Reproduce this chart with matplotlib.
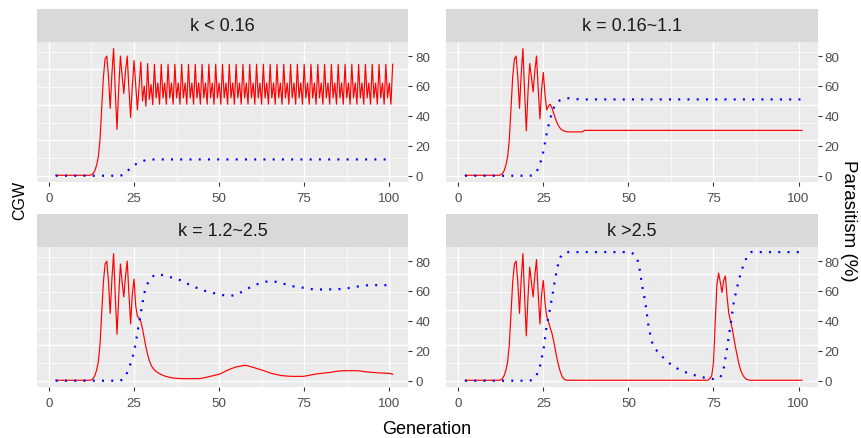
import numpy as np
import matplotlib
matplotlib.use("Agg")
import matplotlib.pyplot as plt

plt.rcParams['font.family'] = ['Liberation Sans', 'DejaVu Sans']

facet_titles = ["k < 0.16", "k = 0.16~1.1", "k = 1.2~2.5", "k >2.5"]

# CGW is recorded every half generation, parasitism once per generation
cgw_generation = np.arange(2.0, 101.01, 0.5)
para_generation = np.arange(2, 102)

cgw_k_low = [
    0.3, 0.3, 0.3, 0.3, 0.3, 0.3, 0.3, 0.3, 0.3, 0.3,
    0.3, 0.3, 0.3, 0.3, 0.3, 0.3, 0.3, 0.3, 0.3, 0.3,
    0.3, 0.6, 1.5, 3.5, 7, 12.5, 24, 45, 66, 78,
    80, 66, 45, 68, 85, 56, 31, 58, 80, 67,
    55, 70, 80, 58, 39, 60, 77, 60, 44, 60,
    76, 50, 60, 46.5, 75, 51, 61, 47.5, 74.5, 52,
    62, 47.8, 74.5, 52, 62, 47.8, 74.5, 52, 62, 47.8,
    74.5, 52, 62, 47.8, 74.5, 52, 62, 47.8, 74.5, 52,
    62, 47.8, 74.5, 52, 62, 47.8, 74.5, 52, 62, 47.8,
    74.5, 52, 62, 47.8, 74.5, 52, 62, 47.8, 74.5, 52,
    62, 47.8, 74.5, 52, 62, 47.8, 74.5, 52, 62, 47.8,
    74.5, 52, 62, 47.8, 74.5, 52, 62, 47.8, 74.5, 52,
    62, 47.8, 74.5, 52, 62, 47.8, 74.5, 52, 62, 47.8,
    74.5, 52, 62, 47.8, 74.5, 52, 62, 47.8, 74.5, 52,
    62, 47.8, 74.5, 52, 62, 47.8, 74.5, 52, 62, 47.8,
    74.5, 52, 62, 47.8, 74.5, 52, 62, 47.8, 74.5, 52,
    62, 47.8, 74.5, 52, 62, 47.8, 74.5, 52, 62, 47.8,
    74.5, 52, 62, 47.8, 74.5, 52, 62, 47.8, 74.5, 52,
    62, 47.8, 74.5, 52, 62, 47.8, 74.5, 52, 62, 47.8,
    74.5, 52, 62, 47.8, 74.5, 52, 62, 47.8, 74.5,
]

cgw_k_mid = [
    0.3, 0.3, 0.3, 0.3, 0.3, 0.3, 0.3, 0.3, 0.3, 0.3,
    0.3, 0.3, 0.3, 0.3, 0.3, 0.3, 0.3, 0.3, 0.3, 0.3,
    0.3, 0.6, 1.5, 3.5, 7, 12.5, 24, 45, 66, 78,
    80, 66, 45, 68, 85, 56, 30, 56, 75, 66,
    56, 70, 80, 58, 38, 58, 69, 54, 44, 46.5,
    47.8, 45.5, 42, 38.5, 35.5, 33.2, 31.6, 30.6, 30, 29.6,
    29.4, 29.3, 29.3, 29.3, 29.3, 29.3, 29.3, 29.3, 29.3, 29.3,
    30.3, 30.3, 30.3, 30.3, 30.3, 30.3, 30.3, 30.3, 30.3, 30.3,
    30.3, 30.3, 30.3, 30.3, 30.3, 30.3, 30.3, 30.3, 30.3, 30.3,
    30.3, 30.3, 30.3, 30.3, 30.3, 30.3, 30.3, 30.3, 30.3, 30.3,
    30.3, 30.3, 30.3, 30.3, 30.3, 30.3, 30.3, 30.3, 30.3, 30.3,
    30.3, 30.3, 30.3, 30.3, 30.3, 30.3, 30.3, 30.3, 30.3, 30.3,
    30.3, 30.3, 30.3, 30.3, 30.3, 30.3, 30.3, 30.3, 30.3, 30.3,
    30.3, 30.3, 30.3, 30.3, 30.3, 30.3, 30.3, 30.3, 30.3, 30.3,
    30.3, 30.3, 30.3, 30.3, 30.3, 30.3, 30.3, 30.3, 30.3, 30.3,
    30.3, 30.3, 30.3, 30.3, 30.3, 30.3, 30.3, 30.3, 30.3, 30.3,
    30.3, 30.3, 30.3, 30.3, 30.3, 30.3, 30.3, 30.3, 30.3, 30.3,
    30.3, 30.3, 30.3, 30.3, 30.3, 30.3, 30.3, 30.3, 30.3, 30.3,
    30.3, 30.3, 30.3, 30.3, 30.3, 30.3, 30.3, 30.3, 30.3, 30.3,
    30.3, 30.3, 30.3, 30.3, 30.3, 30.3, 30.3, 30.3, 30.3,
]

cgw_k_high = [
    0.3, 0.3, 0.3, 0.3, 0.3, 0.3, 0.3, 0.3, 0.3, 0.3,
    0.3, 0.3, 0.3, 0.3, 0.3, 0.3, 0.3, 0.3, 0.3, 0.3,
    0.3, 0.6, 1.5, 3.5, 7, 12.5, 24, 45, 66, 78,
    80, 66, 45, 68, 85, 56, 31, 56, 78, 66,
    56, 70, 80, 58, 38, 58, 68, 50, 43, 42,
    39.5, 34.5, 28.5, 22.5, 17.5, 13.5, 10.5, 8.5, 7.2, 6.2,
    5.4, 4.7, 4.1, 3.6, 3.2, 2.8, 2.5, 2.2, 2.0, 1.8,
    1.7, 1.6, 1.5, 1.5, 1.4, 1.4, 1.4, 1.4, 1.4, 1.4,
    1.4, 1.4, 1.4, 1.4, 1.4, 1.5, 1.7, 1.9, 2.2, 2.4,
    2.7, 3.0, 3.2, 3.5, 3.8, 4.0, 4.3, 4.8, 5.3, 5.9,
    6.5, 7.0, 7.5, 8.0, 8.4, 8.8, 9.2, 9.5, 9.7, 9.9,
    10.1, 10.2, 10.2, 9.9, 9.6, 9.3, 8.9, 8.6, 8.2, 7.9,
    7.5, 7.2, 6.8, 6.4, 6.0, 5.6, 5.2, 4.9, 4.6, 4.3,
    4.1, 3.8, 3.6, 3.4, 3.3, 3.2, 3.1, 3.0, 3.0, 2.9,
    2.9, 2.9, 2.9, 2.9, 2.9, 2.9, 3.0, 3.2, 3.4, 3.6,
    3.9, 4.1, 4.3, 4.5, 4.6, 4.8, 4.9, 5.0, 5.2, 5.3,
    5.4, 5.5, 5.7, 5.9, 6.1, 6.3, 6.4, 6.5, 6.6, 6.7,
    6.7, 6.7, 6.7, 6.7, 6.7, 6.7, 6.7, 6.7, 6.6, 6.5,
    6.3, 6.1, 6.0, 5.9, 5.8, 5.7, 5.6, 5.5, 5.4, 5.3,
    5.2, 5.2, 5.1, 5.1, 5.0, 5.0, 4.9, 4.7, 4.3,
]

cgw_k_top = [
    0.3, 0.3, 0.3, 0.3, 0.3, 0.3, 0.3, 0.3, 0.3, 0.3,
    0.3, 0.3, 0.3, 0.3, 0.3, 0.3, 0.3, 0.3, 0.3, 0.3,
    0.3, 0.6, 1.5, 3.5, 7, 12.5, 24, 45, 66, 78,
    80, 66, 45, 68, 85, 56, 30, 56, 76, 66,
    56, 70, 81, 58, 38, 58, 67, 52, 43, 39.5,
    35.5, 32, 27, 21, 15, 10, 6, 3, 1.3, 0.5,
    0.3, 0.3, 0.3, 0.3, 0.3, 0.3, 0.3, 0.3, 0.3, 0.3,
    0.3, 0.3, 0.3, 0.3, 0.3, 0.3, 0.3, 0.3, 0.3, 0.3,
    0.3, 0.3, 0.3, 0.3, 0.3, 0.3, 0.3, 0.3, 0.3, 0.3,
    0.3, 0.3, 0.3, 0.3, 0.3, 0.3, 0.3, 0.3, 0.3, 0.3,
    0.3, 0.3, 0.3, 0.3, 0.3, 0.3, 0.3, 0.3, 0.3, 0.3,
    0.3, 0.3, 0.3, 0.3, 0.3, 0.3, 0.3, 0.3, 0.3, 0.3,
    0.3, 0.3, 0.3, 0.3, 0.3, 0.3, 0.3, 0.3, 0.3, 0.3,
    0.3, 0.3, 0.3, 0.3, 0.3, 0.3, 0.3, 0.3, 0.3, 0.3,
    0.3, 0.3, 0.3, 0.6, 1.5, 3.5, 12, 38, 64, 72,
    66, 59, 67, 70, 56, 45, 40, 35, 28.5, 22,
    16.5, 11, 7, 4.3, 2.5, 1.3, 0.7, 0.4, 0.3, 0.3,
    0.3, 0.3, 0.3, 0.3, 0.3, 0.3, 0.3, 0.3, 0.3, 0.3,
    0.3, 0.3, 0.3, 0.3, 0.3, 0.3, 0.3, 0.3, 0.3, 0.3,
    0.3, 0.3, 0.3, 0.3, 0.3, 0.3, 0.3, 0.3, 0.3,
]

para_k_low = [
    0, 0, 0, 0, 0, 0, 0, 0, 0, 0,
    0, 0, 0, 0, 0, 0, 0, 0, 0, 0,
    0.8, 3, 5.2, 7, 8.3, 9.4, 10.1, 10.6, 10.8, 10.9,
    10.9, 10.9, 10.9, 10.9, 10.9, 10.9, 10.9, 10.9, 10.9, 10.9,
    10.9, 10.9, 10.9, 10.9, 10.9, 10.9, 10.9, 10.9, 10.9, 10.9,
    10.9, 10.9, 10.9, 10.9, 10.9, 10.9, 10.9, 10.9, 10.9, 10.9,
    10.9, 10.9, 10.9, 10.9, 10.9, 10.9, 10.9, 10.9, 10.9, 10.9,
    10.9, 10.9, 10.9, 10.9, 10.9, 10.9, 10.9, 10.9, 10.9, 10.9,
    10.9, 10.9, 10.9, 10.9, 10.9, 10.9, 10.9, 10.9, 10.9, 10.9,
    10.9, 10.9, 10.9, 10.9, 10.9, 10.9, 10.9, 10.9, 10.9, 10.9,
]

para_k_mid = [
    0, 0, 0, 0, 0, 0, 0, 0, 0, 0,
    0, 0, 0, 0, 0, 0, 0, 0, 0, 0,
    0.3, 2.5, 7.5, 16, 28.5, 38, 45, 49, 50.6, 51.4,
    51.8, 51.8, 51.5, 51.2, 51.0, 51.0, 51.0, 51.0, 51.0, 51.0,
    51.0, 51.0, 51.0, 51.0, 51.0, 51.0, 51.0, 51.0, 51.0, 51.0,
    51.0, 51.0, 51.0, 51.0, 51.0, 51.0, 51.0, 51.0, 51.0, 51.0,
    51.0, 51.0, 51.0, 51.0, 51.0, 51.0, 51.0, 51.0, 51.0, 51.0,
    51.0, 51.0, 51.0, 51.0, 51.0, 51.0, 51.0, 51.0, 51.0, 51.0,
    51.0, 51.0, 51.0, 51.0, 51.0, 51.0, 51.0, 51.0, 51.0, 51.0,
    51.0, 51.0, 51.0, 51.0, 51.0, 51.0, 51.0, 51.0, 51.0, 51.0,
]

para_k_high = [
    0, 0, 0, 0, 0, 0, 0, 0, 0, 0,
    0, 0, 0, 0, 0, 0, 0, 0, 0, 0,
    1.5, 5.5, 11.5, 19, 32, 45.5, 58.5, 65, 68.5, 70.7,
    71.2, 70.8, 70.2, 69.6, 69.0, 68.3, 67.6, 67.0, 66.0, 64.5,
    63.3, 62.4, 61.7, 60.8, 60.0, 59.4, 58.8, 58.2, 57.8, 57.3,
    57.0, 56.9, 57.0, 57.5, 58.6, 59.8, 61.0, 62.3, 63.4, 64.3,
    65.1, 65.8, 66.3, 66.5, 66.4, 66.0, 65.5, 64.8, 64.1, 63.5,
    63.0, 62.7, 62.4, 62.1, 61.8, 61.3, 61.0, 61.0, 61.0, 61.0,
    61.0, 61.1, 61.2, 61.2, 61.3, 61.6, 61.9, 62.3, 62.7, 63.1,
    63.4, 63.7, 63.9, 63.9, 63.9, 63.9, 63.9, 63.9, 63.9, 63.9,
]

para_k_top = [
    0, 0, 0, 0, 0, 0, 0, 0, 0, 0,
    0, 0, 0, 0, 0, 0, 0, 0, 0, 0,
    0.8, 3.5, 9.6, 20, 37, 48.5, 61.5, 75, 82.5, 85.3,
    86, 86, 86, 86, 86, 86, 86, 86, 86, 86,
    86, 86, 86, 86, 86, 86, 86, 86, 86, 85.5,
    84, 79, 64, 52, 35, 25.5, 21, 18.3, 16, 13.8,
    11.8, 10, 8.5, 7.5, 6.5, 5.5, 4.6, 4, 3.3, 2.8,
    2.2, 1.7, 1.3, 1.2, 1.4, 2, 8, 22, 37, 53,
    63, 72, 78.5, 83.5, 86, 86, 86, 86, 86, 86,
    86, 86, 86, 86, 86, 86, 86, 86, 86, 86,
]

cgw_series = [cgw_k_low, cgw_k_mid, cgw_k_high, cgw_k_top]
para_series = [para_k_low, para_k_mid, para_k_high, para_k_top]

# ---- layout (pixel units of an 861 x 439 canvas) ----
W, H = 861, 439
panel_lefts = [36.7, 446.0]
panel_tops = [43.0, 248.0]
panel_w, panel_h, strip_h = 371.6, 140.0, 33.0
cgw_grid_step = 11.86          # CGW gridlines expressed on the parasitism scale


def frac_box(x, y, w, h):
    return [x / W, 1 - (y + h) / H, w / W, h / H]


fig = plt.figure(figsize=(W / 100, H / 100), dpi=100)

for i, (title, cgw, para) in enumerate(zip(facet_titles, cgw_series, para_series)):
    r, c = divmod(i, 2)
    x0, y0 = panel_lefts[c], panel_tops[r]

    ax = fig.add_axes(frac_box(x0, y0, panel_w, panel_h))
    ax.set_facecolor('#EBEBEB')
    for s in ax.spines.values():
        s.set_visible(False)
    ax.set_xlim(-3.6, 105.6)
    ax.set_ylim(-4.2, 89.4)

    ax.set_xticks([0, 25, 50, 75, 100])
    ax.set_xticks([12.5, 37.5, 62.5, 87.5], minor=True)
    ax.set_axisbelow(True)
    ax.grid(which='major', axis='x', color='white', lw=1.0)
    ax.grid(which='minor', axis='x', color='white', lw=0.5)
    for k in range(8):
        ax.axhline(k * cgw_grid_step, color='white',
                   lw=1.0 if k % 2 == 0 else 0.5, zorder=0.6)

    ax.yaxis.tick_right()
    ax.set_yticks([0, 20, 40, 60, 80])
    ax.tick_params(axis='both', which='major', length=2.7, width=0.8,
                   color='#333333', labelcolor='#4D4D4D', labelsize=9.6, pad=2.4)
    ax.tick_params(axis='x', which='major', pad=4.4)
    ax.tick_params(axis='x', which='minor', length=0)

    ax.plot(cgw_generation, cgw, color='#FF0000', lw=0.85, zorder=2)
    ax.plot(para_generation, para, color='#0000FF', lw=1.6,
            linestyle=(0, (0.9, 3.26)), dash_capstyle='butt', zorder=3)

    sx = fig.add_axes(frac_box(x0, y0 - strip_h, panel_w, strip_h))
    sx.set_facecolor('#D9D9D9')
    sx.set_xticks([])
    sx.set_yticks([])
    for s in sx.spines.values():
        s.set_visible(False)
    sx.text(0.5, 0.5, title, ha='center', va='center', fontsize=13,
            color='#1A1A1A', transform=sx.transAxes)

fig.text(20 / W, 1 - 200 / H, 'CGW', rotation=90, ha='center', va='center',
         fontsize=11.5, color='black')
fig.text(848 / W, 1 - 221 / H, 'Parasitism (%)', rotation=-90, ha='center',
         va='center', fontsize=13.5, color='black')
fig.text(427 / W, 1 - 434 / H, 'Generation', ha='center', va='baseline',
         fontsize=13, color='black')

fig.savefig('out.png', dpi=100, facecolor='white')
